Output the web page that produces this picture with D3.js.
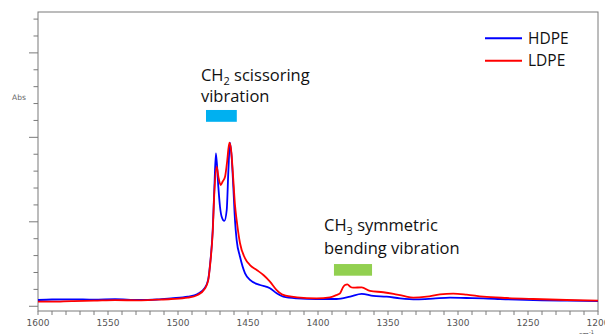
<!DOCTYPE html>
<html>
<head>
<meta charset="utf-8">
<script src="https://cdn.jsdelivr.net/npm/d3@7"></script>
<style>
  body { margin: 0; background: #fff; }
  svg { display: block; }
</style>
</head>
<body>
<div id="chart"></div>
<script>
// wavenumber (cm-1) / absorbance (arbitrary units)
var hdpeWave = [1600, 1590, 1576, 1560, 1545, 1528, 1515, 1505, 1493, 1486, 1481, 1478.5, 1477, 1475.2, 1474, 1472.9, 1471.2, 1470, 1468.8, 1466.9, 1465.2, 1464, 1462.9, 1461.7, 1460.5, 1459.3, 1458.1, 1455.7, 1452.1, 1448.6, 1441.4, 1434.3, 1429.5, 1424.8, 1415.2, 1401, 1386.7, 1377, 1368.8, 1360.5, 1351, 1341.4, 1329.5, 1318, 1305.7, 1294, 1282, 1270, 1258, 1240, 1222, 1200];
var hdpeAbs  = [0.37, 0.40, 0.41, 0.39, 0.42, 0.37, 0.40, 0.47, 0.57, 0.73, 1.07, 1.56, 2.56, 4.51, 7.08, 9.05, 7.08, 5.89, 5.30, 5.05, 5.70, 8.07, 9.68, 8.85, 7.08, 5.10, 3.92, 2.93, 1.95, 1.56, 1.26, 1.07, 0.77, 0.57, 0.47, 0.43, 0.43, 0.57, 0.73, 0.61, 0.57, 0.47, 0.41, 0.45, 0.51, 0.49, 0.47, 0.43, 0.39, 0.35, 0.33, 0.31];

var ldpeWave = [1600, 1590, 1576, 1560, 1545, 1528, 1515, 1505, 1493, 1486, 1481, 1478.5, 1477, 1475.2, 1474, 1472.4, 1471, 1469.5, 1468, 1466.4, 1465, 1463.3, 1462, 1460.5, 1459.3, 1458.1, 1455.7, 1452.1, 1448.6, 1443.8, 1439, 1434.3, 1429.5, 1424.8, 1415, 1401, 1391.4, 1386.7, 1384.3, 1381.9, 1380.7, 1379, 1377, 1374.8, 1368.8, 1362.9, 1353.4, 1346, 1339, 1331.9, 1322.4, 1312.9, 1303.4, 1293.8, 1281.9, 1265.2, 1246.2, 1222.4, 1200];
var ldpeAbs  = [0.28, 0.27, 0.31, 0.33, 0.36, 0.35, 0.39, 0.43, 0.51, 0.67, 1.02, 1.50, 2.50, 4.40, 6.80, 8.26, 7.60, 7.18, 7.40, 7.67, 8.50, 9.68, 9.20, 7.50, 6.00, 5.10, 3.73, 2.84, 2.44, 2.15, 1.85, 1.46, 0.96, 0.67, 0.53, 0.47, 0.53, 0.67, 0.77, 1.16, 1.26, 1.30, 1.16, 1.10, 1.12, 0.91, 0.83, 0.73, 0.61, 0.51, 0.57, 0.71, 0.75, 0.69, 0.57, 0.49, 0.43, 0.37, 0.33];

var xTickLabels = [1600, 1550, 1500, 1450, 1400, 1350, 1300, 1250, 1200];
var seriesNames = ["HDPE", "LDPE"];
var seriesColors = ["#0000ff", "#ff0000"];

// annotation bands (wavenumber ranges)
var bandScissor = [1480, 1458];
var bandBending = [1388.6, 1361.4];

const W = 605, H = 334;
const margin = { top: 12, right: 7, bottom: 23, left: 38 };
const width = W - margin.left - margin.right;
const height = H - margin.top - margin.bottom;

const svg = d3.select("#chart").append("svg")
  .attr("width", W)
  .attr("height", H);

const g = svg.append("g")
  .attr("transform", `translate(${margin.left},${margin.top})`);

const x = d3.scaleLinear().domain([1600, 1200]).range([0, width]);
const y = d3.scaleLinear().domain([-0.28, 17.42]).range([height, 0]);

// frame
g.append("rect")
  .attr("width", width).attr("height", height)
  .attr("fill", "none").attr("stroke", "#7a7a7a").attr("stroke-width", 1);

// x axis ticks: every 10, labels every 50
const xAxis = g.append("g").attr("transform", `translate(0,${height})`);
xAxis.selectAll("line")
  .data(d3.range(1600, 1199, -10))
  .enter().append("line")
  .attr("x1", d => x(d)).attr("x2", d => x(d))
  .attr("y1", 0).attr("y2", 4)
  .attr("stroke", "#7a7a7a");
xAxis.selectAll("text")
  .data(xTickLabels)
  .enter().append("text")
  .attr("x", d => x(d)).attr("y", 15)
  .attr("text-anchor", "middle")
  .attr("font-family", "DejaVu Sans")
  .attr("font-size", 9)
  .attr("fill", "#555")
  .text(d => d);
xAxis.append("text")
  .attr("x", x(1214)).attr("y", 26)
  .attr("font-family", "DejaVu Sans").attr("font-size", 7).attr("fill", "#555")
  .text("cm").append("tspan").attr("dy", -3).attr("font-size", 5).text("-1");

// y axis ticks
const yAxis = g.append("g");
yAxis.selectAll("line")
  .data(d3.range(0, 18))
  .enter().append("line")
  .attr("x1", d => d % 5 === 0 ? -9 : -4.5).attr("x2", 0)
  .attr("y1", d => y(d)).attr("y2", d => y(d))
  .attr("stroke", "#7a7a7a");
svg.append("text")
  .attr("x", 12).attr("y", 100)
  .attr("font-family", "DejaVu Sans").attr("font-size", 7.5).attr("fill", "#666")
  .text("Abs");

// spectra
const line = d3.line()
  .x(d => x(d[0]))
  .y(d => y(d[1]))
  .curve(d3.curveMonotoneX);

const hdpe = hdpeWave.map((w, i) => [w, hdpeAbs[i]]).sort((a, b) => a[0] - b[0]);
const ldpe = ldpeWave.map((w, i) => [w, ldpeAbs[i]]).sort((a, b) => a[0] - b[0]);

[hdpe, ldpe].forEach((s, i) => {
  g.append("path")
    .datum(s)
    .attr("fill", "none")
    .attr("stroke", seriesColors[i])
    .attr("stroke-width", 1.8)
    .attr("stroke-linejoin", "round")
    .attr("d", line);
});

// legend
const leg = g.append("g");
seriesNames.forEach((n, i) => {
  const ly = 26.3 + i * 22.5;
  leg.append("line")
    .attr("x1", 447).attr("x2", 484)
    .attr("y1", ly).attr("y2", ly)
    .attr("stroke", seriesColors[i]).attr("stroke-width", 2);
  leg.append("text")
    .attr("x", 490).attr("y", ly + 5.2)
    .attr("font-family", "Open Sans").attr("font-size", 15.5).attr("fill", "#111")
    .text(n);
});

// annotations
const annFont = "Open Sans";
const annSize = 16.5;
const t1 = g.append("text")
  .attr("font-family", annFont).attr("font-size", annSize).attr("fill", "#111");
t1.append("tspan").attr("x", x(1483.6)).attr("y", y(13.33)).text("CH");
t1.append("tspan").attr("dy", 4).attr("font-size", 11).text("2");
t1.append("tspan").attr("dy", -4).text(" scissoring");
t1.append("tspan").attr("x", x(1483.6)).attr("y", y(12.11)).text("vibration");

g.append("rect")
  .attr("x", x(bandScissor[0])).attr("width", x(bandScissor[1]) - x(bandScissor[0]))
  .attr("y", y(11.62)).attr("height", y(10.92) - y(11.62))
  .attr("fill", "#00b0f0");

const t2 = g.append("text")
  .attr("font-family", annFont).attr("font-size", annSize).attr("fill", "#111");
t2.append("tspan").attr("x", x(1395.7)).attr("y", y(4.47)).text("CH");
t2.append("tspan").attr("dy", 4).attr("font-size", 11).text("3");
t2.append("tspan").attr("dy", -4).text(" symmetric");
t2.append("tspan").attr("x", x(1395.7)).attr("y", y(3.07)).text("bending vibration");

g.append("rect")
  .attr("x", x(bandBending[0])).attr("width", x(bandBending[1]) - x(bandBending[0]))
  .attr("y", y(2.50)).attr("height", y(1.81) - y(2.50))
  .attr("fill", "#92d050");
</script>
</body>
</html>
